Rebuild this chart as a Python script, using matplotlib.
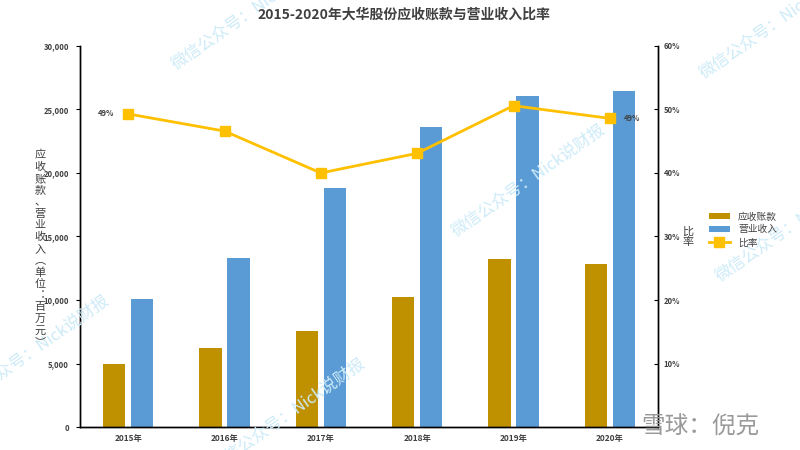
import numpy as np
import matplotlib
matplotlib.use("Agg")
import matplotlib.pyplot as plt
from matplotlib.ticker import FuncFormatter

plt.rcParams['font.family'] = ['Noto Sans CJK SC', 'DejaVu Sans']

# 数据（百万元）
years = ['2015年', '2016年', '2017年', '2018年', '2019年', '2020年']
receivables = [5000, 6200, 7550, 10200, 13250, 12850]
revenue = [10100, 13300, 18850, 23650, 26100, 26450]
ratio = [49.3, 46.6, 40.0, 43.1, 50.6, 48.6]

c_ar = '#BF9000'
c_rev = '#5B9BD5'
c_ratio = '#FFC000'
c_text = '#404040'

fig = plt.figure(figsize=(8, 4.5), dpi=100)

# 水印（画在最底层）
wm = '微信公众号：Nick说财报'
for (wx, wy) in [(0.04, 0.22), (0.66, 0.6), (0.97, 0.95), (0.31, 0.97), (0.36, 0.08), (0.99, 0.5)]:
    fig.text(wx, wy, wm, rotation=35, fontsize=12, color='#CDEBF8', ha='center', va='center', zorder=0)

ax = fig.add_axes([0.1, 0.0511, 0.7225, 0.8467])
ax2 = ax.twinx()
ax.patch.set_alpha(0)
ax2.patch.set_alpha(0)

x = np.arange(len(years))
w = 0.23
ax.bar(x - 0.145, receivables, width=w, color=c_ar, label='应收账款', zorder=2)
ax.bar(x + 0.145, revenue, width=w, color=c_rev, label='营业收入', zorder=2)
ax.set_xlim(-0.5, len(years) - 0.5)
ax.set_ylim(0, 30000)
ax.set_yticks(np.arange(0, 30001, 5000))
ax.yaxis.set_major_formatter(FuncFormatter(lambda v, p: f'{int(v):,}'))
ax.set_xticks(x)
ax.set_xticklabels(years, fontsize=6, fontweight='bold', color=c_text)
ax.tick_params(axis='x', length=0, pad=5)
ax.tick_params(axis='y', labelsize=5.5, labelcolor=c_text, length=3, width=0.8, pad=5)
for lab in ax.get_yticklabels():
    lab.set_fontweight('bold')

ax2.plot(x, ratio, color=c_ratio, lw=2, marker='s', markersize=7, label='比率', zorder=3)
ax2.set_ylim(0, 60)
ax2.set_yticks(np.arange(0, 61, 10))
ax2.yaxis.set_major_formatter(FuncFormatter(lambda v, p: '' if v == 0 else f'{int(v)}%'))
ax2.tick_params(axis='y', direction='in', labelsize=5.5, labelcolor=c_text, length=3, width=0.8, pad=4)
for lab in ax2.get_yticklabels():
    lab.set_fontweight('bold')

ax2.annotate(f'{round(ratio[0])}%', (x[0], ratio[0]), xytext=(-10, 0), textcoords='offset points',
             ha='right', va='center', fontsize=5.5, color=c_text, fontweight='bold')
ax2.annotate(f'{round(ratio[-1])}%', (x[-1], ratio[-1]), xytext=(10, 0), textcoords='offset points',
             ha='left', va='center', fontsize=5.5, color=c_text, fontweight='bold')

for a in (ax, ax2):
    a.spines['top'].set_visible(False)
    for s in ('left', 'right', 'bottom'):
        a.spines[s].set_linewidth(1.0)
        a.spines[s].set_color('black')

fig.text(0.505, 0.968, '2015-2020年大华股份应收账款与营业收入比率', ha='center', va='center',
         fontsize=10, fontweight='bold', color=c_text)

# 竖排标签，括号和冒号用竖排字形
left_label = '应收账款、营业收入︵单位︓百万元︶'
fig.text(0.05, 0.447, '\n'.join(left_label), ha='center', va='center', fontsize=8,
         color=c_text, linespacing=1.2)
fig.text(0.86, 0.473, '比\n率', ha='center', va='center', fontsize=8, color=c_text, linespacing=1.0)

h1, l1 = ax.get_legend_handles_labels()
h2, l2 = ax2.get_legend_handles_labels()
fig.legend(h1 + h2, l1 + l2, loc='center left', bbox_to_anchor=(0.875, 0.49), frameon=False,
           fontsize=7, handlelength=2.2, handleheight=0.6, labelspacing=0.3, labelcolor=c_text)

fig.text(0.875, 0.05, '雪球：倪克', fontsize=17, color='#9A9A9A', ha='center', va='center')

fig.savefig('out.png', dpi=100)
